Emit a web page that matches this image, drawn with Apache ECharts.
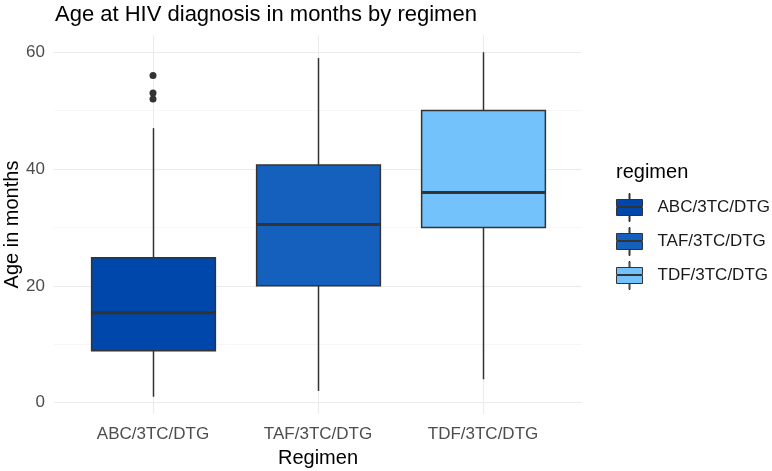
<!DOCTYPE html>
<html style="height: 100%">
<head>
  <meta charset="utf-8">
</head>
<body style="height: 100%; margin: 0; background: #fff">
  <div id="container" style="width: 772px; height: 471px"></div>
  <script src="https://cdn.jsdelivr.net/npm/echarts@6/dist/echarts.min.js"></script>
  <script>
    // values
    var regimens = ['ABC/3TC/DTG', 'TAF/3TC/DTG', 'TDF/3TC/DTG'];
    var lowerWhisker = [1, 2, 4];
    var q1 = [8.9, 20, 30];
    var median = [15.4, 30.5, 36];
    var q3 = [24.8, 40.7, 50];
    var upperWhisker = [47, 59, 60];
    var outliers = [[0, 56], [0, 53], [0, 52]];
    var yTicks = [0, 20, 40, 60];
    var yGrid = [0, 10, 20, 30, 40, 50, 60];

    var fills = ['#0047AB', '#1560BD', '#73C2FB'];
    var legendIcon = 'path://M12.5 0h1v6h-1z M0 6h26v7h-26z M0 14h26v8h-26z M12.5 22h1v6h-1z';
    var catIdx = regimens.map(function (r, i) { return i; });

    var boxData = regimens.map(function (r, i) {
      return [i, lowerWhisker[i], q1[i], median[i], q3[i], upperWhisker[i]];
    });

    function renderBox(params, api) {
      var i = api.value(0);
      var half = api.size([0.75, 0])[0] / 2;
      var lo = api.coord([i, api.value(1)]);
      var b = api.coord([i, api.value(2)]);
      var m = api.coord([i, api.value(3)]);
      var t = api.coord([i, api.value(4)]);
      var hi = api.coord([i, api.value(5)]);
      var x = Math.round(lo[0]) + 0.5;
      var stroke = { stroke: '#333333', lineWidth: 1.5 };
      return {
        type: 'group',
        children: [
          { type: 'line', shape: { x1: x, y1: lo[1], x2: x, y2: b[1] }, style: stroke },
          { type: 'line', shape: { x1: x, y1: t[1], x2: x, y2: hi[1] }, style: stroke },
          {
            type: 'rect',
            shape: { x: x - half, y: t[1], width: half * 2, height: b[1] - t[1] },
            style: { fill: fills[i], stroke: '#333333', lineWidth: 1.5 }
          },
          {
            type: 'line',
            shape: { x1: x - half, y1: m[1], x2: x + half, y2: m[1] },
            style: { stroke: '#333333', lineWidth: 3 }
          }
        ]
      };
    }

    var dom = document.getElementById('container');
    var myChart = echarts.init(dom, null, { renderer: 'canvas' });

    var series = [
      {
        // panel grid lines, kept under the boxes
        type: 'scatter',
        data: [],
        z: 0,
        silent: true,
        markLine: {
          z: 0,
          silent: true,
          symbol: 'none',
          label: { show: false },
          lineStyle: { color: '#ebebeb', width: 1.1, type: 'solid' },
          data: catIdx.map(function (i) { return { xAxis: i }; })
            .concat(yGrid.map(function (v) {
              return { yAxis: v, lineStyle: { width: v % 20 === 0 ? 1.1 : 0.6, color: v % 20 === 0 ? '#ebebeb' : '#f2f2f2' } };
            }))
        }
      },
      {
        type: 'custom',
        renderItem: renderBox,
        data: boxData,
        encode: { x: 0, y: [1, 2, 3, 4, 5] },
        z: 3
      },
      {
        type: 'scatter',
        data: outliers,
        symbolSize: 7,
        itemStyle: { color: '#333333', opacity: 1 },
        z: 4
      }
    ];
    regimens.forEach(function (r, i) {
      series.push({ type: 'bar', name: r, data: [], itemStyle: { color: fills[i] } });
    });

    var option = {
      backgroundColor: '#ffffff',
      animation: false,
      textStyle: { fontFamily: 'Liberation Sans, Arial, sans-serif' },
      title: [
        {
          text: 'Age at HIV diagnosis in months by regimen',
          left: 50, top: -1,
          textStyle: { fontSize: 22, fontWeight: 'normal', color: '#000' }
        },
        {
          text: 'regimen',
          left: 611, top: 157,
          textStyle: { fontSize: 20, fontWeight: 'normal', color: '#000' }
        }
      ],
      legend: {
        orient: 'vertical',
        left: 611, top: 188,
        itemWidth: 26, itemHeight: 28, itemGap: 5,
        icon: legendIcon,
        itemStyle: { borderColor: '#333333', borderWidth: 1 },
        textStyle: { fontSize: 17, color: '#1a1a1a', padding: [0, 0, 0, 10] },
        data: regimens
      },
      grid: { left: 54, right: 190, top: 35, bottom: 57, containLabel: false, outerBoundsMode: 'none' },
      xAxis: {
        type: 'value',
        min: -0.6,
        max: 2.6,
        name: 'Regimen',
        nameLocation: 'middle',
        nameGap: 34,
        nameMoveOverlap: false,
        nameTextStyle: { fontSize: 20, color: '#000' },
        axisLine: { show: false },
        axisTick: { show: false, customValues: catIdx },
        axisLabel: {
          fontSize: 17, color: '#4d4d4d', margin: 12, customValues: catIdx,
          formatter: function (v) { return regimens[Math.round(v)]; }
        },
        splitLine: { show: false }
      },
      yAxis: {
        type: 'value',
        min: -1.95,
        max: 62.95,
        name: 'Age in months',
        nameLocation: 'middle',
        nameGap: 32,
        nameMoveOverlap: false,
        nameTextStyle: { fontSize: 20, color: '#000' },
        axisLine: { show: false },
        axisTick: { show: false, customValues: yTicks },
        axisLabel: { fontSize: 17, color: '#4d4d4d', margin: 9, customValues: yTicks },
        splitLine: { show: false }
      },
      series: series
    };

    myChart.setOption(option);
  </script>
</body>
</html>
